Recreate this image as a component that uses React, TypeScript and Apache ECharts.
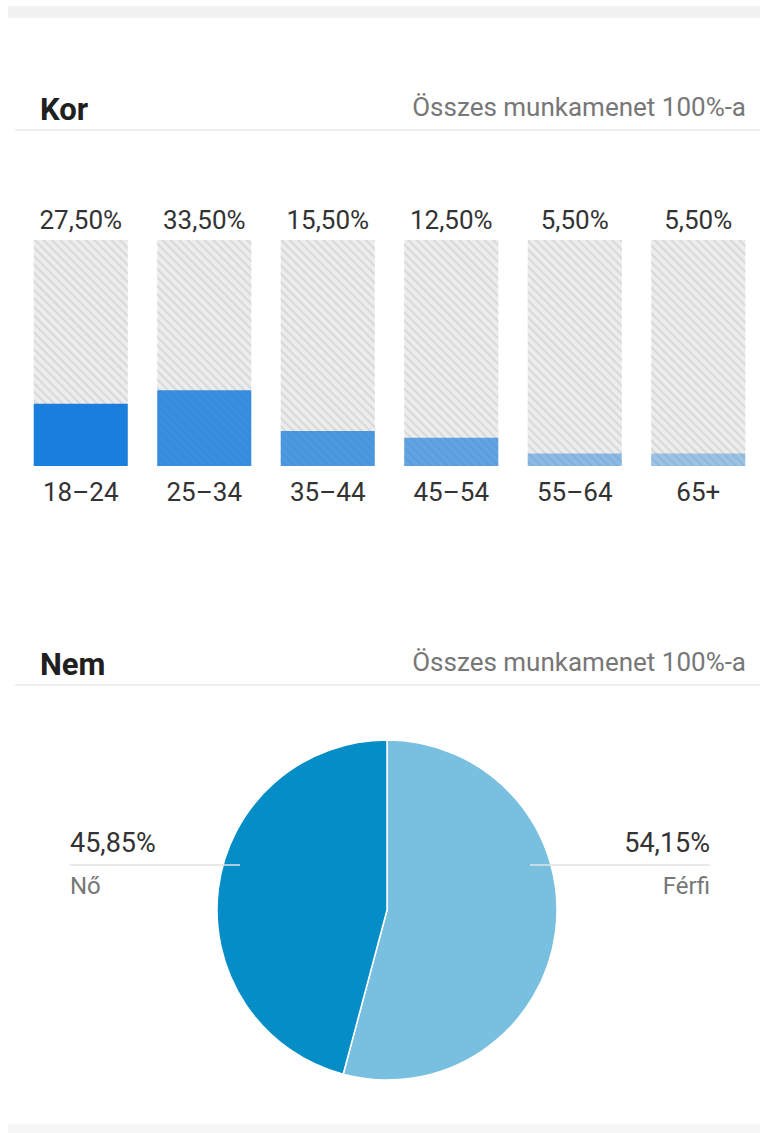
import React, { useEffect, useRef } from "react";
import * as echarts from "echarts";

const ageCategories = ["18–24", "25–34", "35–44", "45–54", "55–64", "65+"];
const ageValues = [27.5, 33.5, 15.5, 12.5, 5.5, 5.5];
const ageScaleMax = 100;
const ageOpacity = [1, 0.86, 0.76, 0.66, 0.46, 0.38];

const genderNames = ["Nő", "Férfi"];
const genderValues = [45.85, 54.15];
const genderColors = ["#058dc7", "#79bfe0"];

const sectionTitles = ["Kor", "Nem"];
const sectionSubtitle = "Összes munkamenet 100%-a";

const fmt = (v: number) => v.toFixed(2).replace(".", ",") + "%";

export default function App() {
  const ref = useRef<HTMLDivElement>(null);
  useEffect(() => {
    document.body.style.margin = "0";
    if (!ref.current) return;
    const chart = echarts.init(ref.current, null, { renderer: "svg" });
    const font = "Roboto, 'Noto Sans', sans-serif";
    const header = (title: string, yCenter: number, lineY: number) => [
      {
        type: "text",
        left: 40,
        top: yCenter - 16,
        style: { text: title, font: `bold 31px ${font}`, fill: "#202020" },
      },
      {
        type: "text",
        right: 14,
        top: yCenter - 16,
        style: { text: sectionSubtitle, font: `26px ${font}`, fill: "#777777" },
      },
      {
        type: "rect",
        shape: { x: 15, y: lineY, width: 745, height: 2 },
        style: { fill: "#eeeeee" },
      },
    ];
    const nIdx = 0;
    const fIdx = 1;
    chart.setOption({
      animation: false,
      backgroundColor: "#ffffff",
      grid: { left: 19, top: 240, width: 743, height: 226 },
      xAxis: {
        type: "category",
        data: ageCategories,
        axisLine: { show: false },
        axisTick: { show: false },
        axisLabel: { fontSize: 26, color: "#333333", fontFamily: font, margin: 13 },
      },
      yAxis: { type: "value", min: 0, max: ageScaleMax, show: false },
      series: [
        {
          type: "bar",
          barWidth: 94,
          barGap: "-100%",
          silent: true,
          data: ageValues.map(() => ageScaleMax),
          itemStyle: {
            color: "#ececec",
            decal: {
              symbol: "rect",
              symbolSize: 1,
              dashArrayX: [1, 0],
              dashArrayY: [2, 4],
              rotation: Math.PI / 4,
              color: "#d8d8d8",
            },
          },
          label: {
            show: true,
            position: "top",
            distance: 7,
            fontSize: 26,
            color: "#333333",
            fontFamily: font,
            formatter: (p: any) => fmt(ageValues[p.dataIndex]),
          },
          z: 1,
        },
        {
          type: "bar",
          barWidth: 94,
          barGap: "-100%",
          data: ageValues.map((v, i) => ({
            value: v,
            itemStyle: { color: "#1a7edc", opacity: ageOpacity[i] },
          })),
          z: 2,
        },
        {
          type: "pie",
          center: [387, 910],
          radius: 170,
          startAngle: 90,
          clockwise: true,
          label: { show: false },
          labelLine: { show: false },
          itemStyle: { borderColor: "#ffffff", borderWidth: 1.5 },
          data: [
            { name: genderNames[fIdx], value: genderValues[fIdx], itemStyle: { color: genderColors[fIdx] } },
            { name: genderNames[nIdx], value: genderValues[nIdx], itemStyle: { color: genderColors[nIdx] } },
          ],
        },
      ],
      graphic: [
        {
          type: "rect",
          shape: { x: 8, y: 6, width: 752, height: 12 },
          style: { fill: "#f1f1f1" },
        },
        {
          type: "rect",
          shape: { x: 8, y: 1124, width: 752, height: 9 },
          style: { fill: "#f6f6f6" },
        },
        ...header(sectionTitles[0], 110, 129),
        ...header(sectionTitles[1], 665, 684),
        {
          type: "text",
          left: 70,
          top: 829,
          z: 10,
          style: { text: fmt(genderValues[nIdx]), font: `27px ${font}`, fill: "#333333" },
        },
        {
          type: "text",
          left: 70,
          top: 874,
          z: 10,
          style: { text: genderNames[nIdx], font: `24px ${font}`, fill: "#777777" },
        },
        {
          type: "line",
          z: 10,
          shape: { x1: 70, y1: 865, x2: 240, y2: 865 },
          style: { stroke: "#e2e2e2", lineWidth: 1.5 },
        },
        {
          type: "text",
          right: 50,
          top: 829,
          z: 10,
          style: { text: fmt(genderValues[fIdx]), font: `27px ${font}`, fill: "#333333" },
        },
        {
          type: "text",
          right: 50,
          top: 874,
          z: 10,
          style: { text: genderNames[fIdx], font: `24px ${font}`, fill: "#777777" },
        },
        {
          type: "line",
          z: 10,
          shape: { x1: 530, y1: 865, x2: 710, y2: 865 },
          style: { stroke: "#e2e2e2", lineWidth: 1.5 },
        },
      ],
    });
    return () => chart.dispose();
  }, []);
  return <div ref={ref} style={{ width: 760, height: 1133 }} />;
}
